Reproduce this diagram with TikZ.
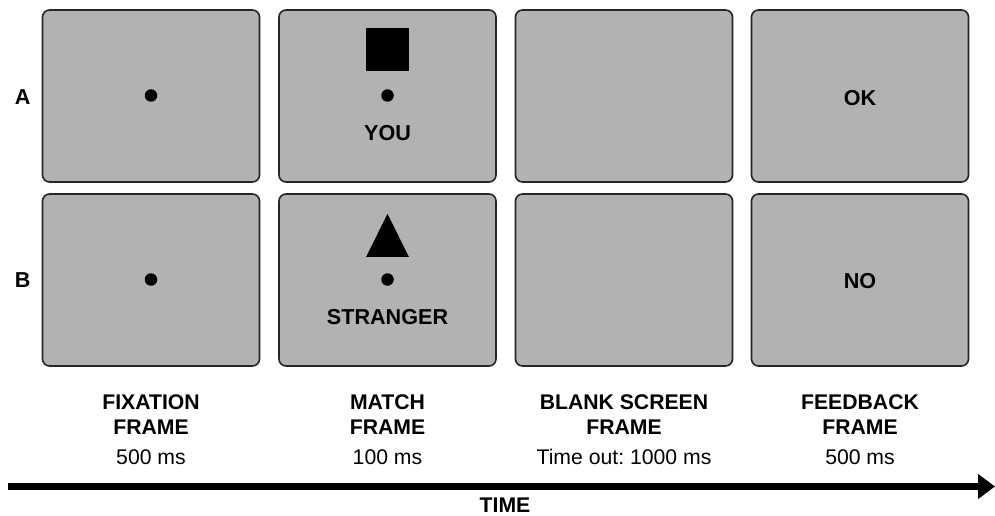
\documentclass[tikz,border=0pt]{standalone}
\usepackage{fontspec}
\setmainfont{Liberation Sans}
\usetikzlibrary{calc, positioning, arrows.meta}
\frenchspacing

\begin{document}
\begin{tikzpicture}[x=1pt, y=-1pt,
    panel/.style={draw=black!85, line width=1.6pt, fill=black!30, rounded corners=7pt,
        minimum width=217pt, minimum height=172pt, inner sep=0pt},
    fixdot/.style={circle, fill=black, minimum size=12.5pt, inner sep=0pt},
    cue/.style={font=\fontsize{21.6}{25}\selectfont\bfseries, inner sep=0pt},
    stage/.style={font=\fontsize{21.2}{25}\selectfont\bfseries, align=center, inner sep=0pt},
    dur/.style={font=\fontsize{21.2}{24}\selectfont, inner sep=0pt}]
    \useasboundingbox (0,0) rectangle (995,516);

    % Bildschirme
    \foreach \c/\x in {1/151, 2/387.5, 3/624, 4/860} {
        \node[panel] (a\c) at (\x,96) {};
        \node[panel] (b\c) at (\x,280) {};
    }
    \node[cue] (rowA) at (22.7,96.7) {A};
    \node[cue] (rowB) at (22.7,280) {B};

    % Fixationspunkte
    \foreach \p in {a1, b1, a2, b2} {
        \node[fixdot] (\p dot) at ([yshift=0.5pt]\p.center) {};
    }

    % Reize
    \node[fill=black, minimum size=43pt, inner sep=0pt, above=18pt of a2dot] (square) {};
    \fill ([yshift=65.7pt]b2dot.center) -- ++(21.3,43) -- ++(-42.6,0) -- cycle;
    \node[cue] (you) at (387.5,133) {YOU};
    \node[cue] (stranger) at (387.5,317) {STRANGER};
    \node[cue] (ok) at (860,98) {OK};
    \node[cue] (no) at (860,281) {NO};

    % Beschriftung der Phasen
    \foreach \c/\x/\name/\t in {1/151/FIXATION/500 ms, 2/387.5/MATCH/100 ms,
        3/624/BLANK SCREEN/Time out: 1000 ms, 4/860/FEEDBACK/500 ms} {
        \node[stage] (st\c) at (\x,414.2) {\name\\FRAME};
        \node[dur] (du\c) at (\x,456.7) {\t};
    }

    % Zeitachse
    \coordinate (tstart) at (8,486.5);
    \coordinate (tend) at (995,486.5);
    \draw[line width=7pt, -{Triangle[length=17pt, width=24pt]}] (tstart) -- (tend);
    \node[stage] (time) at (505,505) {TIME};
\end{tikzpicture}
\end{document}
